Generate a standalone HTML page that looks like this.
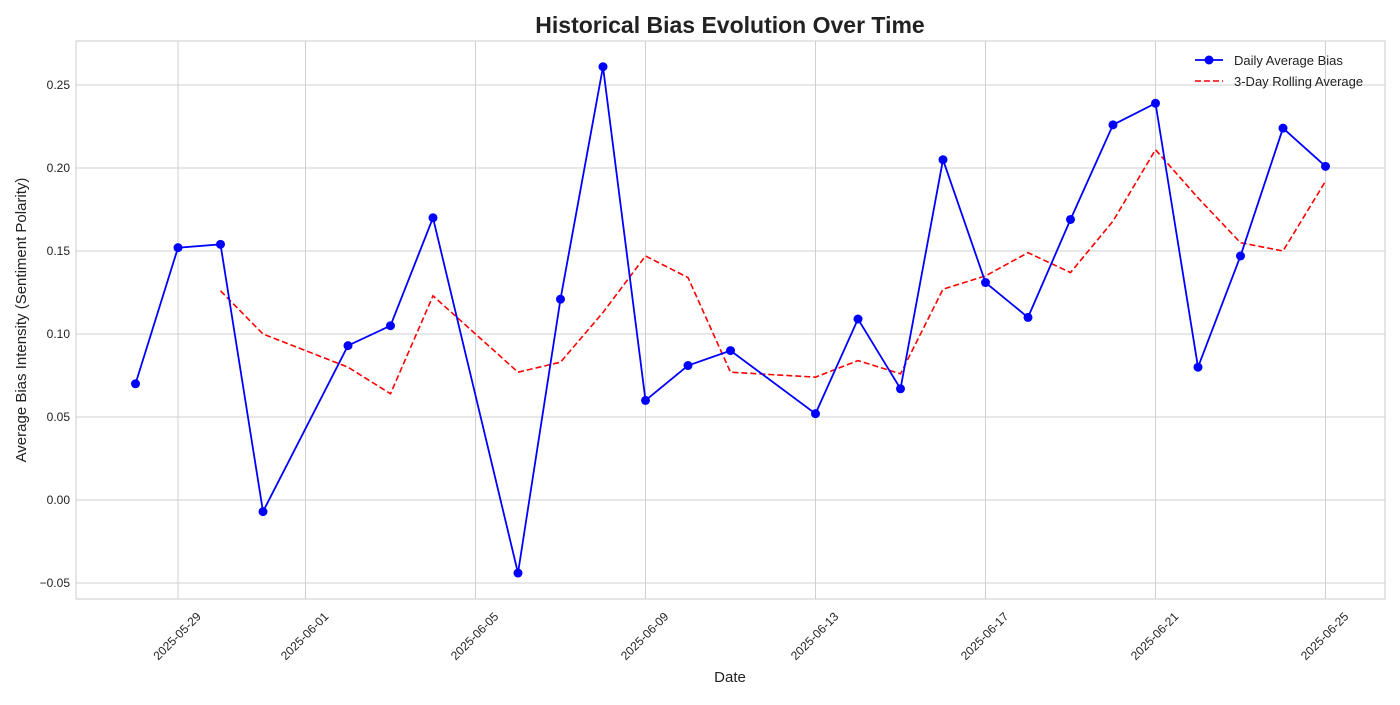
<!DOCTYPE html>
<html><head><meta charset="utf-8"><style>
body{margin:0;background:#fff;font-family:"Liberation Sans",sans-serif;}
svg text{font-family:"Liberation Sans",sans-serif;}
</style></head><body>
<svg id="c" width="1400" height="700"></svg>
<script>
const dates=["2025-05-28","2025-05-29","2025-05-30","2025-05-31","2025-06-02","2025-06-03","2025-06-04","2025-06-06","2025-06-07","2025-06-08","2025-06-09","2025-06-10","2025-06-11","2025-06-13","2025-06-14","2025-06-15","2025-06-16","2025-06-17","2025-06-18","2025-06-19","2025-06-20","2025-06-21","2025-06-22","2025-06-23","2025-06-24","2025-06-25"];
const dailyBias=[0.070,0.152,0.154,-0.007,0.093,0.105,0.170,-0.044,0.121,0.261,0.060,0.081,0.090,0.052,0.109,0.067,0.205,0.131,0.110,0.169,0.226,0.239,0.080,0.147,0.224,0.201];
const rollingAvg=[null,null,0.126,0.100,0.080,0.064,0.123,0.077,0.083,0.113,0.147,0.134,0.077,0.074,0.084,0.076,0.127,0.135,0.149,0.137,0.168,0.211,0.182,0.155,0.150,0.192];
const xTickLabels=["2025-05-29","2025-06-01","2025-06-05","2025-06-09","2025-06-13","2025-06-17","2025-06-21","2025-06-25"];
const yTicks=[-0.05,0,0.05,0.10,0.15,0.20,0.25];

const svg=document.getElementById('c');const NS="http://www.w3.org/2000/svg";
const L=76,R=1385,T=41,B=599;
const day0=Date.parse("2025-05-29");
function x(d){return 178+(Date.parse(d)-day0)/86400000*42.5;}
function y(v){return 500-v*1660;}
function el(t,a,p){const e=document.createElementNS(NS,t);for(const k in a)e.setAttribute(k,a[k]);(p||svg).appendChild(e);return e;}
const grid=el('g',{});


yTicks.forEach(v=>{
 el('line',{x1:L,x2:R,y1:y(v),y2:y(v),stroke:'#d0d0d0','stroke-width':1},grid);
 const t=el('text',{x:L-6,y:y(v)+4,'text-anchor':'end','font-size':12,fill:'#222'});
 t.textContent=v.toFixed(2).replace('-','−');
 
 
});
xTickLabels.forEach(d=>{
 el('line',{x1:x(d),x2:x(d),y1:T,y2:B,stroke:'#d0d0d0','stroke-width':1},grid);
 const t=el('text',{transform:`translate(${x(d)+2},${B+40}) rotate(-45)`,'text-anchor':'middle','font-size':12,fill:'#222'});
 t.textContent=d;
 
 
});
el('rect',{x:L,y:T,width:R-L,height:B-T,fill:'none',stroke:'#ccc','stroke-width':1});
let rp=[];dates.forEach((d,i)=>{if(rollingAvg[i]!=null)rp.push(x(d)+','+y(rollingAvg[i]));});
const rl=el('polyline',{points:rp.join(' '),fill:'none',stroke:'red','stroke-width':1.6,'stroke-dasharray':'6,3'});


const dl=el('polyline',{points:dates.map((d,i)=>x(d)+','+y(dailyBias[i])).join(' '),fill:'none',stroke:'blue','stroke-width':1.8});


dates.forEach((d,i)=>{
 const c=el('circle',{cx:x(d),cy:y(dailyBias[i]),r:4.5,fill:'blue'});
 
 
});
</script>
<svg width="1400" height="700" style="position:absolute;left:0;top:0">
<text x="730" y="33" text-anchor="middle" font-size="23" font-weight="bold" fill="#222">Historical Bias Evolution Over Time</text>
<text x="730" y="682" text-anchor="middle" font-size="15" fill="#222">Date</text>
<text transform="translate(26,320) rotate(-90)" text-anchor="middle" font-size="15" fill="#222">Average Bias Intensity (Sentiment Polarity)</text>
<g>
<g><line x1="1195" x2="1223" y1="60" y2="60" stroke="blue" stroke-width="1.8"/><circle cx="1209" cy="60" r="4.5" fill="blue"/><text x="1234" y="65" font-size="13" fill="#222">Daily Average Bias</text></g>
<g><line x1="1195" x2="1223" y1="81" y2="81" stroke="red" stroke-width="1.6" stroke-dasharray="6,3"/><text x="1234" y="86" font-size="13" fill="#222">3-Day Rolling Average</text></g>
</g>
</svg>
</body></html>
